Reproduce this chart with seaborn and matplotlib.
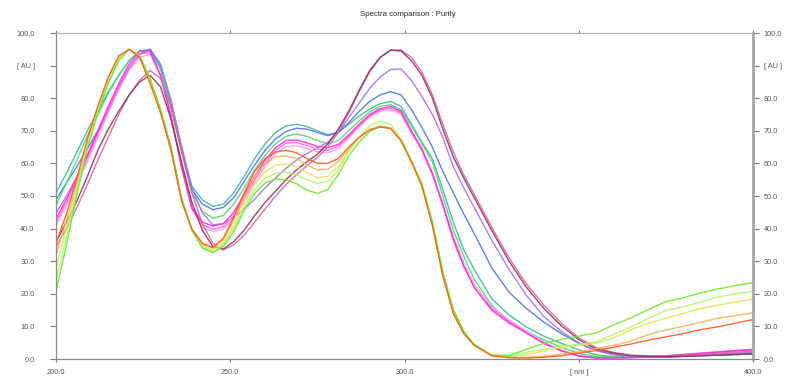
import matplotlib
matplotlib.use("Agg")
import matplotlib.pyplot as plt
import seaborn as sns
import pandas as pd

# ---------------- data ----------------
wavelength = [200, 203, 206, 209, 212, 215, 218, 221, 224, 227, 230, 233, 236, 239, 242,
              245, 248, 251, 254, 257, 260, 263, 266, 269, 272, 275, 278, 281, 284, 287,
              290, 293, 296, 299, 302, 305, 308, 311, 314, 317, 320, 325, 330, 335, 340,
              345, 350, 355, 360, 365, 370, 375, 380, 385, 390, 395, 400]

green = [20.7, 35, 50.5, 64.5, 75.5, 84.5, 91.5, 95, 93, 86, 76.5, 65, 49.5, 39.5, 34,
         32.6, 34.5, 39, 45.5, 50.8, 54, 55.2, 55, 53.8, 51.8, 50.8, 52, 56.5, 62.3, 66.5,
         69.8, 71.3, 70.8, 67, 60.5, 53.5, 42, 26.5, 15, 8.5, 4.5, 1.2, 1.0, 3.0, 4.8,
         6.0, 7.0, 8.0, 10.5, 12.6, 15.2, 17.6, 18.8, 20.3, 21.5, 22.5, 23.4]
light_green = [24, 37.5, 52, 65.5, 76, 85, 92, 95, 93, 86, 76.5, 65, 49.5, 39.5, 34.3,
               33, 35, 40, 46.5, 52, 55.5, 57, 57.3, 56.5, 55, 53.8, 54.5, 58, 63.5, 68,
               71.5, 73, 72, 67.5, 61, 54, 42.5, 27, 15.5, 8.5, 4.5, 1.2, 1.1, 2.0, 3.0,
               4.0, 4.5, 5.3, 7.5, 9.8, 12.5, 14.9, 16, 17.5, 19, 20, 20.7]
yellow = [28, 40, 53, 66, 76.5, 85.5, 92, 95, 93, 85.5, 76.5, 65, 49, 39.5, 34.8,
          33.5, 35.5, 41, 47.5, 53.5, 57.5, 59.5, 59.8, 59, 57.2, 55.6, 56, 59, 64, 67.8,
          70.3, 71.5, 71, 67, 60.5, 53.5, 41.5, 26, 14.5, 8, 4.3, 1.0, 0.7, 1.3, 2.5,
          3.5, 4.2, 4.8, 6.5, 9, 11, 12.5, 14, 15.5, 16.5, 17.5, 18.4]
light_orange = [32, 42.5, 54, 66.5, 77, 86, 92.5, 95, 92.8, 85, 76, 64.5, 49, 39.8, 35.2,
                34, 36.5, 42.5, 49.5, 56, 60, 62, 62.3, 61.5, 59.5, 58, 58.2, 60.5, 64.5, 68,
                70.3, 71.3, 70.8, 67, 60.5, 53, 41, 25.5, 14, 7.8, 4.2, 1.0, 0.5, 0.5, 0.8,
                1.5, 2.2, 3.2, 4.2, 5.5, 7.5, 8.9, 10, 11.3, 12.5, 13.3, 14.2]
red = [35.5, 44.5, 55.5, 67.5, 77.5, 86.5, 93, 95, 92.5, 84.5, 75.5, 64, 48.5, 39.8, 35.5,
       34.2, 37, 43.5, 51, 57.5, 61.5, 63.5, 64, 63.3, 61.5, 60, 60, 61.5, 65, 68,
       70.3, 71.2, 70.7, 67, 60.5, 53, 41, 25.5, 14, 7.8, 4.2, 1.0, 0.4, 0.3, 0.5,
       1.0, 1.8, 2.6, 3.6, 4.6, 5.8, 6.8, 7.8, 9, 9.9, 11, 12.1]
teal = [51, 57, 63.5, 70, 76, 82, 87, 91.5, 94.5, 95, 89, 77, 64, 53, 48.8,
        46.8, 47.5, 51, 56, 61.5, 66, 69.5, 71.5, 72, 71.3, 70, 68.8, 69.5, 72, 74.5,
        76.7, 78.3, 79, 77.5, 72, 66.5, 61.5, 52, 42, 33.5, 27.5, 18.5, 13.5, 9.8, 7,
        4.8, 2.8, 1.3, 0.7, 0.5, 0.5, 0.6, 0.8, 1.0, 1.2, 1.3, 1.5]
blue = [48.8, 54, 59, 64.5, 70, 76.5, 83.5, 89.5, 93.5, 95, 90, 78.5, 64.5, 52, 47.5,
        45.8, 46.5, 49.5, 54.5, 59.5, 64, 67.5, 69.8, 70.8, 70.5, 69.5, 68.5, 69.5, 72.5, 76,
        79, 81, 82, 81, 76.5, 71, 65, 57.5, 51, 44.5, 38.5, 28, 20.5, 15.5, 11.3,
        7.8, 4.8, 2.6, 1.4, 0.8, 0.6, 0.6, 0.8, 1.0, 1.2, 1.4, 1.6]
mid_green = [47, 54, 61, 68.5, 75, 81.5, 87, 91.5, 94.5, 94.5, 89, 77.5, 63.5, 51, 45.3,
             43.2, 44, 47.5, 52.5, 58, 62.5, 66, 68.3, 69, 68.3, 67, 66, 67, 70, 73,
             75.8, 77.5, 78, 76.5, 71.5, 66, 60.5, 50, 39.5, 31.5, 24.5, 16.5, 11.5, 8.5, 5.8,
             3.6, 1.7, 0.8, 0.5, 0.5, 0.6, 0.8, 1.0, 1.2, 1.4, 1.6, 1.8]
purple = [44.7, 50, 56, 62.5, 69.5, 76.5, 83, 89, 93.5, 95, 90.5, 79.5, 65.5, 52.5, 44.8,
          41.2, 41.5, 43.5, 46, 49, 52.5, 55.5, 58.5, 61, 63, 64.8, 66.5, 69.5, 74, 78.5,
          83, 86.5, 88.8, 89, 85.5, 80.5, 75, 68, 59, 52.5, 46.5, 36.5, 27.5, 19.5, 13,
          8.5, 5, 2.6, 1.3, 0.8, 0.6, 0.7, 0.9, 1.2, 1.5, 1.8, 2.1]
magenta = [43, 49, 55.5, 62.5, 70, 77.5, 84.5, 90.5, 94.5, 94.5, 87, 74.5, 59, 46.5, 42,
           40.8, 41.5, 45, 50.5, 56, 61, 64.8, 67, 67.2, 66.3, 65.2, 64.8, 65.8, 68.8, 72,
           75, 76.8, 77.5, 76, 70, 64.5, 57, 47.5, 37, 28.5, 22, 15, 11, 8, 4.8,
           2.5, 0.9, 0.3, 0.3, 0.4, 0.6, 0.9, 1.3, 1.7, 2.1, 2.5, 2.8]
pink = [42, 48, 54.5, 61.5, 69, 76.5, 83.5, 89.5, 93.5, 94, 87, 74.5, 59, 46, 41.2,
        39.8, 40.5, 44, 49.5, 55, 60, 64, 66.2, 66.4, 65.5, 64.4, 64, 65.2, 68.3, 71.6,
        74.6, 76.4, 77, 75.5, 69.5, 64, 56.5, 47, 36.5, 28.5, 22, 15.5, 11.5, 8, 4.8,
        2.5, 1.0, 0.4, 0.4, 0.5, 0.7, 1.0, 1.4, 1.8, 2.2, 2.6, 3.0]
light_pink = [41, 47, 53.5, 60.5, 68, 75.5, 82.5, 88.5, 92.5, 93.5, 87, 75, 59.5, 46, 40.5,
              39.1, 39.8, 43, 48.5, 54, 59, 63, 65.2, 65.4, 64.6, 63.6, 63.2, 64.5, 67.8, 71.2,
              74.2, 76, 76.5, 75, 69.5, 64, 57, 47.5, 37.5, 29.5, 23, 16, 12, 8.5, 5.2,
              2.8, 1.1, 0.4, 0.4, 0.5, 0.7, 1.0, 1.4, 1.8, 2.2, 2.6, 2.9]
maroon = [36, 42, 48.5, 56, 64, 70.5, 76, 81, 85, 87, 83.5, 73.5, 60.5, 48, 39.5,
          34.5, 33.7, 36, 39.5, 44, 48, 51.5, 55, 58, 60.5, 62.8, 66, 70.5, 76, 82.5,
          88.5, 92.5, 94.7, 94.5, 91.5, 87, 80, 70.5, 62, 55.5, 49.5, 39.5, 30, 22, 15.5,
          10.2, 6, 3.0, 1.8, 1.0, 0.8, 0.7, 0.8, 1.0, 1.2, 1.4, 1.6]
rose = [34.5, 40, 46.5, 53.5, 61, 68, 75, 81, 85.5, 88.5, 86, 77.5, 64, 51, 41.5,
        35.5, 33.5, 35, 38, 42, 46, 50, 53.5, 56.5, 59.3, 61.8, 65, 69.5, 75.5, 82,
        88, 92.5, 94.8, 94.8, 92.5, 88, 81, 72, 63.5, 56.5, 50.5, 40.5, 31, 23, 16.5,
        11, 6.5, 3.5, 2, 1.2, 1.0, 1.0, 1.2, 1.5, 1.8, 2.1, 2.4]

series = {
    "teal": teal, "blue": blue, "mid_green": mid_green, "purple": purple,
    "light_pink": light_pink, "pink": pink, "magenta": magenta,
    "rose": rose, "maroon": maroon,
    "light_orange": light_orange, "yellow": yellow, "light_green": light_green,
    "green": green, "red": red,
}
colors = {
    "teal": "#3fb3a6", "blue": "#4a74e8", "mid_green": "#4fd86a", "purple": "#a070ff",
    "light_pink": "#ff9cf2", "pink": "#ff66e0", "magenta": "#ff2ad4",
    "rose": "#e0609f", "maroon": "#8e3358",
    "light_orange": "#ffad5c", "yellow": "#e2e45a", "light_green": "#b2f56e",
    "green": "#6ee828", "red": "#ff5a22",
}

# ---------------- build table ----------------
frames = []
for name, vals in series.items():
    frames.append(pd.DataFrame({"wavelength": wavelength, "AU": vals, "sample": name}))
df = pd.concat(frames, ignore_index=True)

# ---------------- figure ----------------
sns.set_style("white")
plt.rcParams["font.family"] = ["Liberation Sans", "DejaVu Sans"]

W, H = 787, 379
fig = plt.figure(figsize=(W / 100, H / 100), dpi=100)
ax = fig.add_axes([56 / W, (H - 359) / H, (753 - 56) / W, (359 - 33) / H])

sns.lineplot(data=df, x="wavelength", y="AU", hue="sample", palette=colors,
             hue_order=list(series.keys()), estimator=None, sort=False,
             legend=False, linewidth=1.0, alpha=0.9, ax=ax)

ax.set_xlim(200, 400)
ax.set_ylim(0, 100)
ax.set_xlabel("")
ax.set_ylabel("")

xt = [200, 250, 300, 350, 400]
xl = ["200.0", "250.0", "300.0", "[ nm ]", "400.0"]
yt = [0, 10, 20, 30, 40, 50, 60, 70, 80, 90, 100]
yl = ["0.0", "10.0", "20.0", "30.0", "40.0", "50.0", "60.0", "70.0", "80.0", "[ AU ]", "100.0"]
ax.set_xticks(xt)
ax.set_xticklabels(xl)
ax.set_yticks(yt)
ax.set_yticklabels(yl)

ax.tick_params(axis="x", which="major", bottom=True, top=True, direction="out",
               length=2.5, width=0.8, color="#777777", labelsize=5.3,
               labelcolor="#555555", pad=5)
ax.tick_params(axis="y", which="major", left=True, right=False, labelleft=True,
               labelright=False, direction="out", length=4.3, width=0.8,
               color="#777777", labelsize=5.3, labelcolor="#555555", pad=11)

# right-hand scale (same values, labels kept inside the picture)
sec = ax.secondary_yaxis("right")
sec.set_yticks(yt)
sec.set_yticklabels(yl)
sec.tick_params(axis="y", direction="out", length=4.3, width=0.8, color="#777777",
                labelsize=5.3, labelcolor="#555555", pad=3.5)
sec.spines["right"].set_visible(False)

for side, sp in ax.spines.items():
    sp.set_visible(True)
    sp.set_color("#8a8a8a")
    sp.set_linewidth(0.9)
ax.spines["top"].set_color("#b0b0b0")
ax.spines["right"].set_color("#a8a8a8")
ax.spines["right"].set_linewidth(2.0)

fig.text((56 + 753) / 2 / W + 0.004, 1 - 15 / H, "Spectra comparison : Purity",
         ha="center", va="center", fontsize=5.6, color="#222222")

fig.savefig("out.png", dpi=100, facecolor="white")
